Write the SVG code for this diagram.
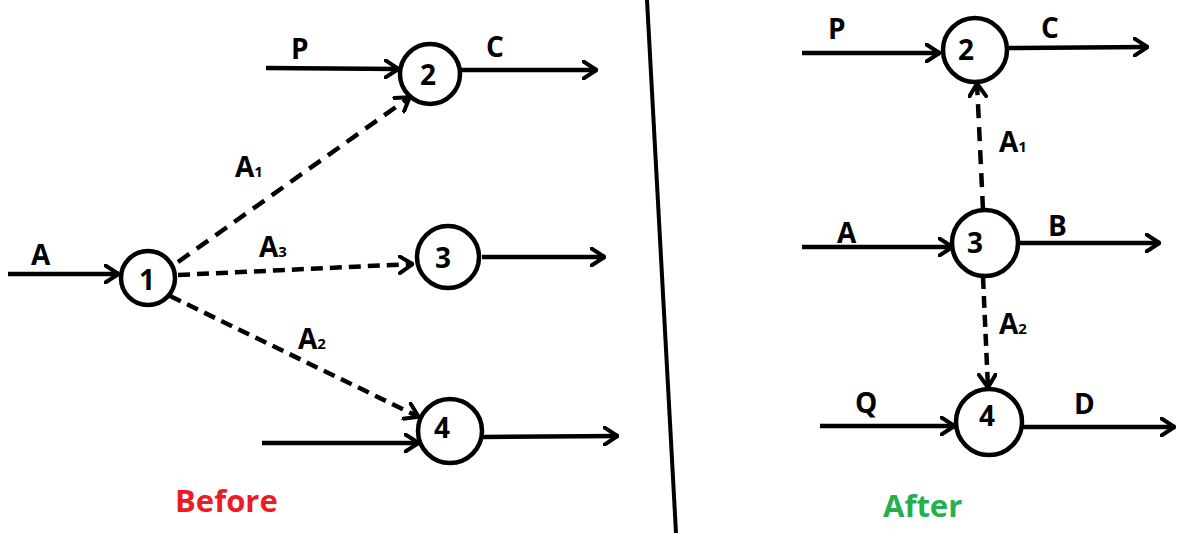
<svg xmlns="http://www.w3.org/2000/svg" width="1199" height="533" viewBox="0 0 1199 533">
<style>
.node circle{fill:#fff;stroke:#000;stroke-width:4.5}
.node text{font-family:"Open Sans","Liberation Sans",sans-serif;font-weight:bold;font-size:28px;text-anchor:middle;fill:#000}
.edge{fill:none;stroke:#000;stroke-width:4.5}
.lbl{font-family:"Open Sans","Liberation Sans",sans-serif;font-weight:bold;font-size:28px;fill:#000}
.sub{font-size:15px}
.d1{stroke-dasharray:14 9}
.d3{stroke-dasharray:12 7}
.d2{stroke-dasharray:12 7}
.title{font-family:"Open Sans","Liberation Sans",sans-serif;font-weight:bold;font-size:31px}
</style>
<defs>
<marker id="arr" viewBox="0 0 16 20" refX="15" refY="10" markerWidth="16" markerHeight="20" markerUnits="userSpaceOnUse" orient="auto">
<path d="M1.5,1.5 L14.5,10 L1.5,18.5" fill="none" stroke="#000" stroke-width="4" stroke-linecap="round" stroke-linejoin="round"/>
</marker>
</defs>
<line x1="647" y1="0" x2="676" y2="533" stroke="#000" stroke-width="4"/>
<g id="connectors">
<line class="edge" x1="8" y1="274" x2="119" y2="274" marker-end="url(#arr)"/>
<line class="edge" x1="266" y1="68" x2="399" y2="69" marker-end="url(#arr)"/>
<line class="edge" x1="461" y1="70" x2="597" y2="70" marker-end="url(#arr)"/>
<line class="edge d1" x1="178" y1="262" x2="410" y2="97" marker-end="url(#arr)"/>
<line class="edge d3" x1="178" y1="275" x2="413" y2="264" marker-end="url(#arr)"/>
<line class="edge d2" x1="170" y1="296" x2="419" y2="417" marker-end="url(#arr)"/>
<line class="edge" x1="482" y1="257" x2="605" y2="257" marker-end="url(#arr)"/>
<line class="edge" x1="262" y1="443" x2="419" y2="443" marker-end="url(#arr)"/>
<line class="edge" x1="482" y1="437" x2="618" y2="436" marker-end="url(#arr)"/>
<line class="edge" x1="802" y1="53" x2="940" y2="53" marker-end="url(#arr)"/>
<line class="edge" x1="1007" y1="48" x2="1148" y2="47" marker-end="url(#arr)"/>
<line class="edge d1" x1="983" y1="210" x2="977" y2="83" marker-end="url(#arr)"/>
<line class="edge" x1="802" y1="247" x2="953" y2="247" marker-end="url(#arr)"/>
<line class="edge" x1="1018" y1="243" x2="1160" y2="243" marker-end="url(#arr)"/>
<line class="edge d2" x1="983" y1="277" x2="988" y2="388" marker-end="url(#arr)"/>
<line class="edge" x1="820" y1="426" x2="955" y2="426" marker-end="url(#arr)"/>
<line class="edge" x1="1023" y1="427" x2="1175" y2="427" marker-end="url(#arr)"/>
</g>
<g id="labels">
<text class="lbl" x="31" y="265">A</text>
<text class="lbl" x="291" y="59">P</text>
<text class="lbl" x="486" y="57">C</text>
<text class="lbl" x="235" y="177">A<tspan class="sub">1</tspan></text>
<text class="lbl" x="259" y="257">A<tspan class="sub">3</tspan></text>
<text class="lbl" x="298" y="349">A<tspan class="sub">2</tspan></text>
<text class="lbl" x="828" y="39">P</text>
<text class="lbl" x="1041" y="38">C</text>
<text class="lbl" x="999" y="152">A<tspan class="sub">1</tspan></text>
<text class="lbl" x="837" y="243">A</text>
<text class="lbl" x="1048" y="236">B</text>
<text class="lbl" x="999" y="334">A<tspan class="sub">2</tspan></text>
<text class="lbl" x="855" y="413">Q</text>
<text class="lbl" x="1074" y="414">D</text>
<text class="title" x="175" y="512" fill="#ED1C24">Before</text>
<text class="title" x="883" y="517" fill="#22B14C">After</text>
</g>
<g id="n1" class="node"><circle cx="148" cy="278" r="27"/><text x="147" y="290">1</text></g>
<g id="n2L" class="node"><circle cx="430" cy="74" r="30"/><text x="428" y="85">2</text></g>
<g id="n3L" class="node"><circle cx="448" cy="257" r="31"/><text x="443" y="268">3</text></g>
<g id="n4L" class="node"><circle cx="450" cy="431" r="32"/><text x="442" y="438">4</text></g>
<g id="n2R" class="node"><circle cx="975" cy="50" r="32"/><text x="966" y="60">2</text></g>
<g id="n3R" class="node"><circle cx="985" cy="243" r="33"/><text x="975" y="253">3</text></g>
<g id="n4R" class="node"><circle cx="989" cy="422" r="33"/><text x="987" y="426">4</text></g>
</svg>
